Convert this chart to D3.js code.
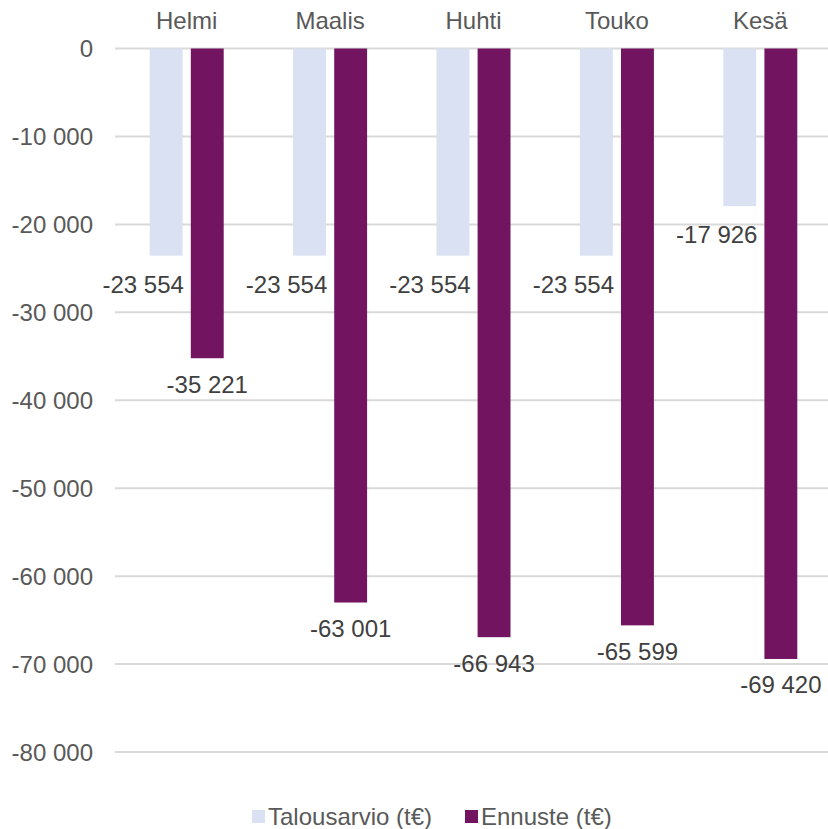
<!DOCTYPE html>
<html>
<head>
<meta charset="utf-8">
<script src="https://cdn.jsdelivr.net/npm/d3@7"></script>
<style>
  body { margin: 0; background: #fff; }
  text { font-family: "Liberation Sans", Arial, sans-serif; }
</style>
</head>
<body>
<script>
// chart values
var months = ["Helmi", "Maalis", "Huhti", "Touko", "Kesä"];
var budget = [-23554, -23554, -23554, -23554, -17926];
var forecast = [-35221, -63001, -66943, -65599, -69420];
var seriesNames = ["Talousarvio (t€)", "Ennuste (t€)"];
var yTicks = [0, -10000, -20000, -30000, -40000, -50000, -60000, -70000, -80000];

var width = 828, height = 829;
var colors = ["#d9e1f2", "#72145f"];

// finnish style numbers: space as thousands separator, plain hyphen as minus
var fi = d3.formatLocale({ decimal: ",", thousands: " ", grouping: [3], currency: ["", " €"], minus: "-" });
var fmt = fi.format(",.0f");

var svg = d3.select("body").append("svg")
  .attr("width", width)
  .attr("height", height);

var x0 = d3.scaleBand()
  .domain(months)
  .range([115, 832])
  .paddingInner(0.484)
  .paddingOuter(0.242);

var x1 = d3.scaleBand()
  .domain([0, 1])
  .range([0, x0.bandwidth()])
  .paddingInner(0.2);

var y = d3.scaleLinear()
  .domain([-80000, 0])
  .range([752, 48.5]);

// gridlines
svg.append("g")
  .selectAll("line")
  .data(yTicks)
  .enter().append("line")
  .attr("x1", 115)
  .attr("x2", 828)
  .attr("y1", function(d) { return y(d); })
  .attr("y2", function(d) { return y(d); })
  .attr("stroke", "#d9d9d9")
  .attr("stroke-width", 2);

// y axis labels
svg.append("g")
  .selectAll("text")
  .data(yTicks)
  .enter().append("text")
  .attr("x", 93)
  .attr("y", function(d) { return y(d) + 8.5; })
  .attr("text-anchor", "end")
  .attr("font-size", 24)
  .attr("fill", "#595959")
  .text(function(d) { return fmt(d); });

// month labels on top
svg.append("g")
  .selectAll("text")
  .data(months)
  .enter().append("text")
  .attr("x", function(d) { return x0(d) + x0.bandwidth() / 2; })
  .attr("y", 29)
  .attr("text-anchor", "middle")
  .attr("font-size", 24)
  .attr("fill", "#595959")
  .text(function(d) { return d; });

var rows = months.map(function(m, i) {
  return { month: m, values: [budget[i], forecast[i]] };
});

var groups = svg.append("g")
  .selectAll("g")
  .data(rows)
  .enter().append("g")
  .attr("transform", function(d) { return "translate(" + x0(d.month) + ",0)"; });

groups.selectAll("rect")
  .data(function(d) { return d.values; })
  .enter().append("rect")
  .attr("x", function(d, i) { return x1(i); })
  .attr("y", y(0))
  .attr("width", x1.bandwidth())
  .attr("height", function(d) { return y(d) - y(0); })
  .attr("fill", function(d, i) { return colors[i]; });

// value labels, budget labels pushed left so they don't hit the forecast bar
groups.selectAll("text")
  .data(function(d) { return d.values; })
  .enter().append("text")
  .attr("x", function(d, i) { return x1(i) + x1.bandwidth() / 2 + (i === 0 ? -23 : 0); })
  .attr("y", function(d, i) { return y(d) + (i === 0 ? 37 : 34.5); })
  .attr("text-anchor", "middle")
  .attr("font-size", 24)
  .attr("fill", "#404040")
  .text(function(d) { return fmt(d); });

// legend
var legendX = [252, 465];
var legend = svg.append("g")
  .selectAll("g")
  .data(seriesNames)
  .enter().append("g")
  .attr("transform", function(d, i) { return "translate(" + legendX[i] + ",810)"; });

legend.append("rect")
  .attr("width", 13)
  .attr("height", 13)
  .attr("fill", function(d, i) { return colors[i]; });

legend.append("text")
  .attr("x", 16)
  .attr("y", 15)
  .attr("font-size", 24)
  .attr("fill", "#595959")
  .text(function(d) { return d; });
</script>
</body>
</html>
